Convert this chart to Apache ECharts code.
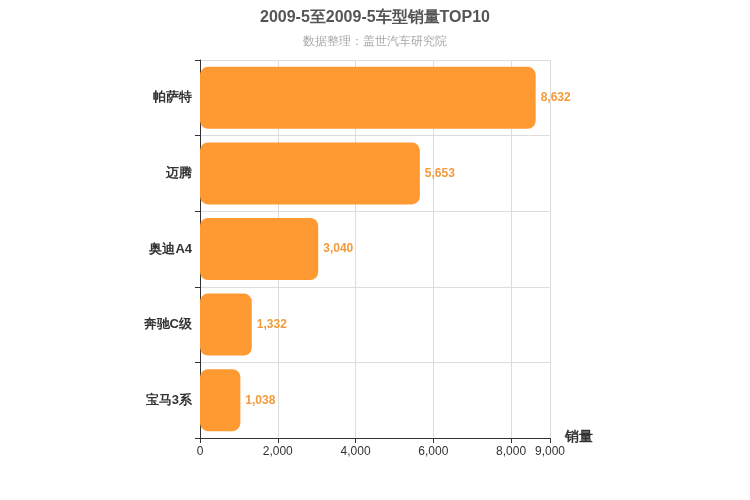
<!DOCTYPE html>
<html>
<head>
<meta charset="utf-8">
<script src="https://cdn.jsdelivr.net/npm/echarts@6/dist/echarts.min.js"></script>
<style>html,body{margin:0;padding:0;background:#fff}#chart{width:750px;height:500px}</style>
</head>
<body>
<div id="chart"></div>
<script>
const models = ['帕萨特', '迈腾', '奥迪A4', '奔驰C级', '宝马3系'];
const sales = [8632, 5653, 3040, 1332, 1038];

const chart = echarts.init(document.getElementById('chart'));

chart.setOption({
  title: {
    text: '2009-5至2009-5车型销量TOP10',
    subtext: '数据整理：盖世汽车研究院',
    left: 'center',
    top: 5,
    itemGap: 10,
    textStyle: { fontSize: 16, fontWeight: 'bold', color: '#555' },
    subtextStyle: { fontSize: 12, color: '#aaa' }
  },
  grid: { left: 200, top: 60, width: 350, bottom: 62 },
  xAxis: {
    type: 'value',
    min: 0,
    max: 9000,
    interval: 2000,
    name: '销量',
    nameLocation: 'end',
    nameGap: 15,
    nameTextStyle: { fontSize: 14, fontWeight: 'bold', color: '#333', verticalAlign: 'top', padding: [-8, 0, 0, 0] },
    axisLine: { show: true, lineStyle: { color: '#333' } },
    axisTick: { show: true },
    axisLabel: { color: '#333', fontSize: 12, showMaxLabel: true },
    splitLine: { show: true, lineStyle: { color: '#ddd' } }
  },
  yAxis: {
    type: 'category',
    data: models,
    inverse: true,
    axisLine: { show: true, lineStyle: { color: '#333' } },
    axisTick: { show: true },
    axisLabel: { color: '#333', fontSize: 13, fontWeight: 'bold' },
    splitLine: { show: true, lineStyle: { color: '#ddd' } }
  },
  series: [{
    type: 'bar',
    data: sales,
    barWidth: '82%',
    itemStyle: { color: '#ff9a33', borderRadius: 8 },
    label: {
      show: true,
      position: 'right',
      color: '#f39a3a',
      fontWeight: 'bold',
      fontSize: 12,
      formatter: p => p.value.toLocaleString('en-US')
    }
  }]
});
</script>
</body>
</html>
